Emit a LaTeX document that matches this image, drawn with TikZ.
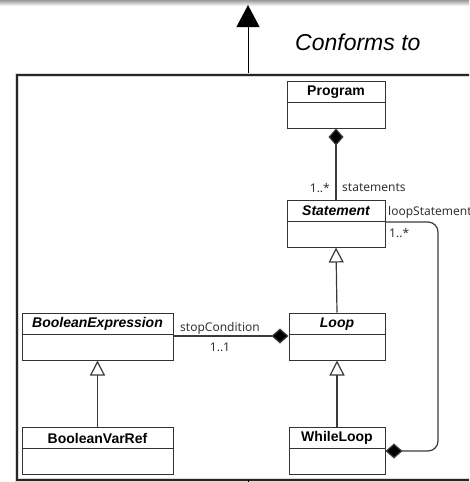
\documentclass[tikz,border=0pt]{standalone}
\usepackage{fontspec}
\setmainfont{Liberation Sans}
\newfontfamily\lblfont{Noto Sans}
\usetikzlibrary{arrows.meta,fit}

\definecolor{ink}{HTML}{333333}
\definecolor{wire}{HTML}{3A3A3A}

\tikzset{
  classbox/.style={draw=ink, line width=1pt, inner sep=0pt, fill=white},
  classname/.style={font=\fontsize{14}{16}\selectfont\bfseries, inner sep=0pt},
  abstractname/.style={font=\fontsize{14}{16}\selectfont\bfseries\itshape, inner sep=0pt},
  assoc/.style={draw=wire, line width=1.2pt},
  role/.style={font=\lblfont\fontsize{12}{14}\selectfont, text=ink, inner sep=0pt},
  composite/.style={-{Diamond[length=17pt,width=15pt,fill=black]}},
  inherits/.style={-{Triangle[open,length=15pt,width=15pt,fill=white]}},
}

% name, left, top, right, divider, bottom, title style, title
\newcommand\umlclass[8]{%
  \node[classbox, fit={(#2,#3) (#4,#6)}] (#1) {};
  \draw[draw=ink, line width=1pt] (#1.west |- 0,#5) -- (#1.east |- 0,#5);
  \node[#7] (#1-title) at ({(#2+#4)/2},{(#3+#5)/2+0.5}) {#8};
}

\begin{document}
\begin{tikzpicture}[x=1pt,y=-1pt]
\useasboundingbox (0,0) rectangle (469,482);
\clip (0,0) rectangle (469,482);

% window edge at the top
\shade[top color=gray!80, bottom color=white] (0,0) rectangle (469,6);

% "Conforms to" link towards the metamodel
\coordinate (upper) at (248,5);
\coordinate (frametop) at (248,75);
\draw[line width=1pt, -{Triangle[length=22pt,width=23pt,fill=black]}] (frametop) -- (upper);
\node[font=\fontsize{23}{26}\selectfont\itshape, anchor=base west, inner sep=0pt] (conf) at (295,50) {Conforms to};

% model frame
\draw[gray!30, line width=4pt] (17,75) rectangle (490,480);
\draw[black!85, line width=1.7pt] (17,75) rectangle (490,480);
\coordinate (framebot) at (248,480);
\draw[line width=1pt] (framebot) -- ++(0,3);

% classes
\umlclass{prog}{287}{81}{385}{102}{128}{classname}{Program}
\umlclass{stmt}{287}{200}{385}{221}{247}{abstractname}{Statement}
\umlclass{bexp}{22}{313}{173}{334}{360}{abstractname}{BooleanExpression}
\umlclass{loop}{289}{313}{385}{334}{360}{abstractname}{Loop}
\umlclass{bvar}{22}{427}{173}{448}{474}{classname}{BooleanVarRef}
\umlclass{while}{289}{427}{385}{448}{474}{classname}{WhileLoop}

% Program <>-- Statement
\draw[assoc, composite] (stmt.north) -- (prog.south);
\node[role, anchor=east] (stmtmult) at (330,188) {1..*};
\node[role, anchor=west] (stmtrole) at (342,188) {statements};

% generalisations
\draw[assoc, inherits] (loop.north) -- (stmt.south);
\draw[assoc, inherits] (while.north) -- (loop.south);
\draw[assoc, inherits] (bvar.north) -- (bexp.south);

% Loop <>-- BooleanExpression
\coordinate (condend) at (loop.west |- 0,336);
\draw[assoc, composite] (bexp.east |- 0,336) -- (condend);
\node[role] (condrole) at (220,328) {stopCondition};
\node[role] (condmult) at (220,347) {1..1};

% WhileLoop <>-- Statement
\coordinate (bend) at (438,222);
\draw[assoc, composite, rounded corners=10pt]
  (stmt.east |- 0,222) -- (bend) -- (bend |- 0,451) -- (while.east |- 0,451);
\node[role, anchor=west] (looprole) at (388,212) {loopStatement};
\node[role, anchor=west] (loopmult) at (389,233) {1..*};
\end{tikzpicture}
\end{document}
